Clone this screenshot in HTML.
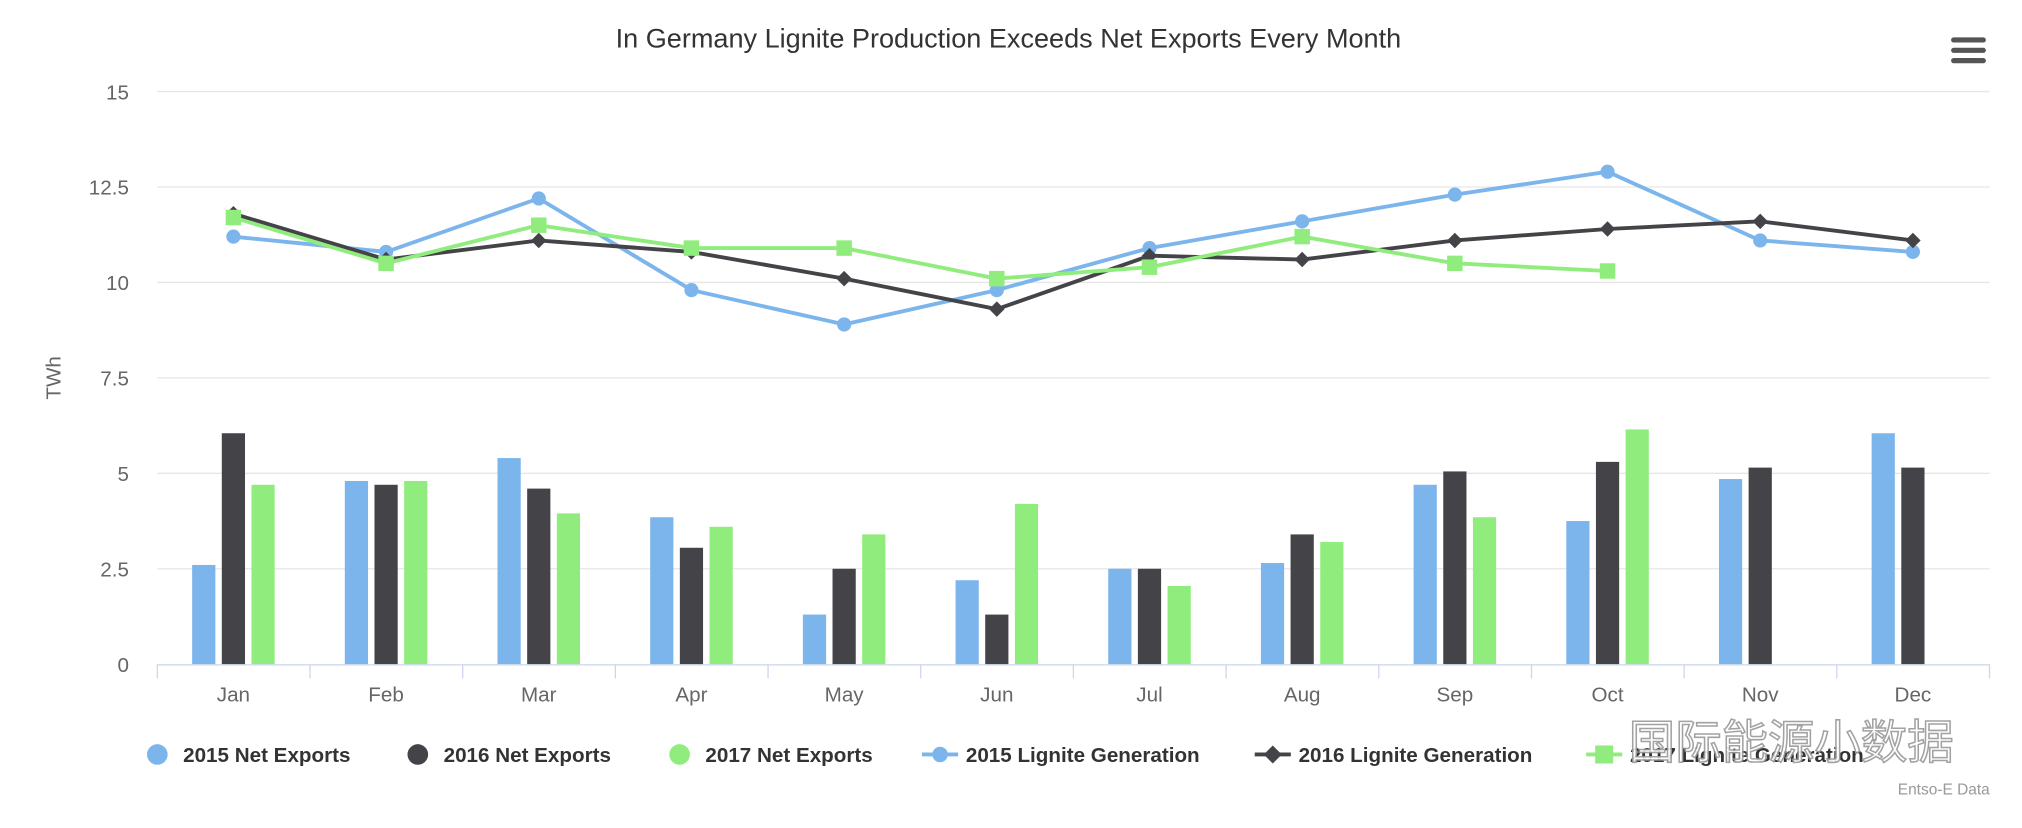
<!DOCTYPE html>
<html><head><meta charset="utf-8"><style>
html,body{margin:0;padding:0;background:#fff;}
svg{display:block;font-family:"Liberation Sans","Noto Sans CJK SC",sans-serif;}
</style></head><body>
<svg id="c" width="2022" height="828" viewBox="0 0 1568 642" preserveAspectRatio="none" xmlns="http://www.w3.org/2000/svg">
<text x="782" y="37" text-anchor="middle" font-size="21" fill="#333">In Germany Lignite Production Exceeds Net Exports Every Month</text>
<g fill="#555"><rect x="1513" y="29" width="27" height="4" rx="2"/><rect x="1513" y="37" width="27" height="4" rx="2"/><rect x="1513" y="45" width="27" height="4" rx="2"/></g>
<text transform="translate(47,293) rotate(-90)" text-anchor="middle" font-size="16" fill="#666">TWh</text>
<text x="1543" y="616" text-anchor="end" font-size="12" fill="#999">Entso-E Data</text>
</svg>
<script>
const s=document.getElementById('c'),NS='http://www.w3.org/2000/svg';
function el(t,a,txt){const e=document.createElementNS(NS,t);for(const k in a)e.setAttribute(k,a[k]);if(txt)e.textContent=txt;s.appendChild(e);return e;}
const Y=v=>515-v*29.6, X=i=>181+i*118.4;
[0,2.5,5,7.5,10,12.5,15].forEach(v=>{if(v>0)el('line',{x1:122,x2:1543,y1:Y(v),y2:Y(v),stroke:'#e6e6e6'});el('text',{x:100,y:Y(v)+6,'text-anchor':'end','font-size':16,fill:'#666'},String(v));});
const m=['Jan','Feb','Mar','Apr','May','Jun','Jul','Aug','Sep','Oct','Nov','Dec'];
const B='#7cb5ec',D='#434348',G='#90ed7d';
const n15=[2.6,4.8,5.4,3.85,1.3,2.2,2.5,2.65,4.7,3.75,4.85,6.05],
n16=[6.05,4.7,4.6,3.05,2.5,1.3,2.5,3.4,5.05,5.3,5.15,5.15],
n17=[4.7,4.8,3.95,3.6,3.4,4.2,2.05,3.2,3.85,6.15],
g15=[11.2,10.8,12.2,9.8,8.9,9.8,10.9,11.6,12.3,12.9,11.1,10.8],
g16=[11.8,10.6,11.1,10.8,10.1,9.3,10.7,10.6,11.1,11.4,11.6,11.1],
g17=[11.7,10.5,11.5,10.9,10.9,10.1,10.4,11.2,10.5,10.3];
[[n15,-23,B],[n16,0,D],[n17,23,G]].forEach(([d,o,c])=>d.forEach((v,i)=>el('rect',{x:X(i)+o-9,y:Y(v),width:18,height:515-Y(v),fill:c})));
el('line',{x1:122,x2:1543,y1:515.5,y2:515.5,stroke:'#ccd6eb'});
for(let i=0;i<=12;i++){const x=122+i*118.4;el('line',{x1:x,x2:x,y1:515,y2:526,stroke:'#ccd6eb'});}
m.forEach((t,i)=>el('text',{x:X(i),y:544,'text-anchor':'middle','font-size':16,fill:'#666'},t));
function line(d,c){el('polyline',{points:d.map((v,i)=>X(i)+','+Y(v)).join(' '),fill:'none',stroke:c,'stroke-width':3});}
line(g15,B);line(g16,D);line(g17,G);
g15.forEach((v,i)=>el('circle',{cx:X(i),cy:Y(v),r:5.5,fill:B}));
g16.forEach((v,i)=>el('path',{d:`M${X(i)},${Y(v)-6}l6,6l-6,6l-6,-6z`,fill:D}));
g17.forEach((v,i)=>el('rect',{x:X(i)-6,y:Y(v)-6,width:12,height:12,fill:G}));
const L=[[122,B,'c','2015 Net Exports'],[324,D,'c','2016 Net Exports'],[527,G,'c','2017 Net Exports'],[729,B,'lc','2015 Lignite Generation'],[987,D,'ld','2016 Lignite Generation'],[1244,G,'ls','2017 Lignite Generation']];
L.forEach(([x,c,t,txt])=>{const y=585;
if(t=='c')el('circle',{cx:x,cy:y,r:8,fill:c});
else{el('line',{x1:x-14,x2:x+14,y1:y,y2:y,stroke:c,'stroke-width':3});
if(t=='lc')el('circle',{cx:x,cy:y,r:6,fill:c});
if(t=='ld')el('path',{d:`M${x},${y-7}l7,7l-7,7l-7,-7z`,fill:c});
if(t=='ls')el('rect',{x:x-7,y:y-7,width:14,height:14,fill:c});}
el('text',{x:x+20,y:y+6,'font-size':16,'font-weight':'bold',fill:'#333'},txt);});
el('text',{x:1515,y:588,'text-anchor':'end','font-size':36,fill:'#fff',stroke:'#999','stroke-width':1.2,opacity:0.9},'国际能源小数据');
</script>
</body></html>
